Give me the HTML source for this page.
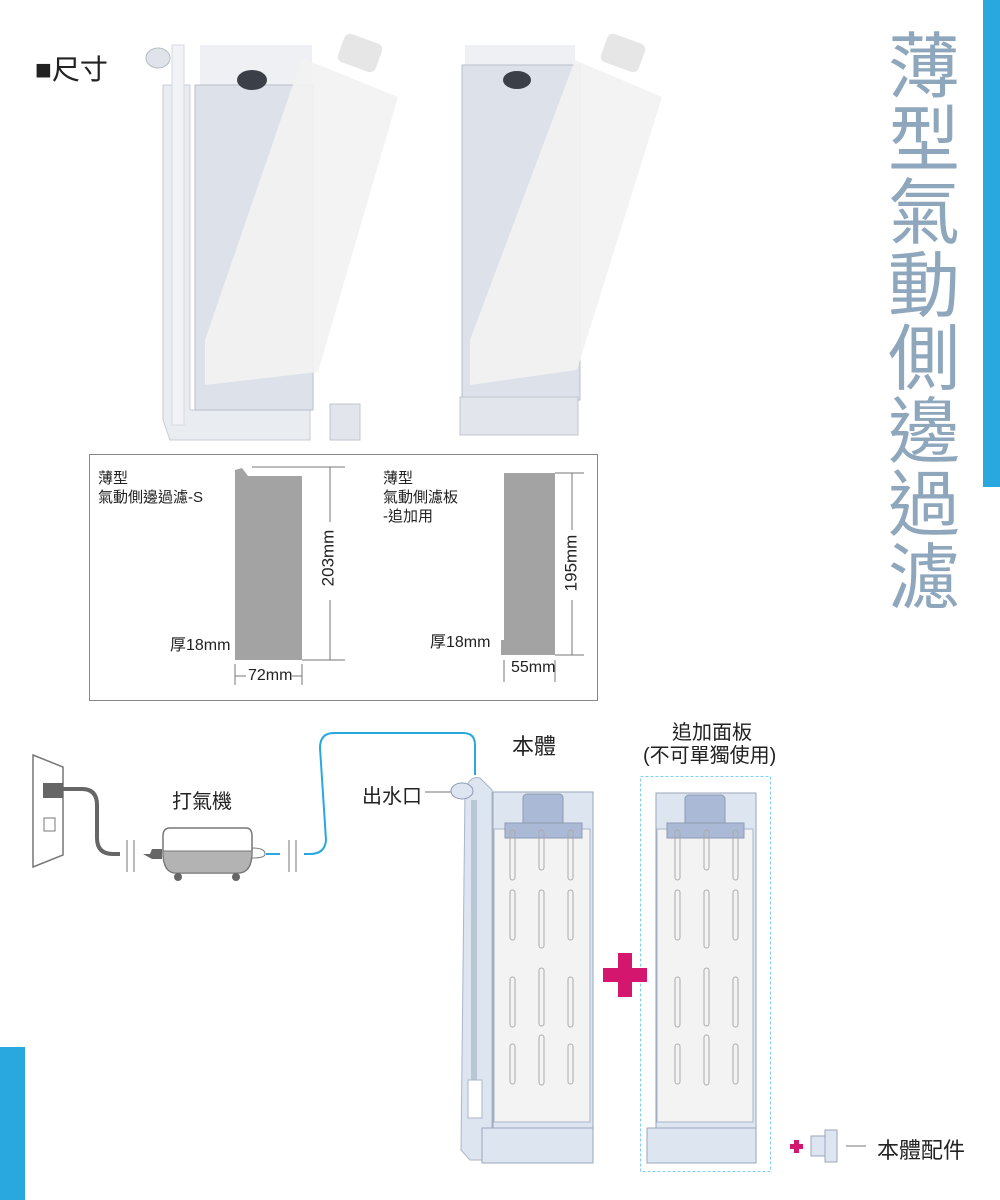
<!DOCTYPE html>
<html><head><meta charset="utf-8"><style>
body{margin:0;background:#fff;}
.w{position:relative;width:1000px;height:1200px;overflow:hidden;font-family:"Liberation Sans","Noto Sans CJK TC",sans-serif;}
.t{position:absolute;color:#222;white-space:nowrap;}
</style></head><body><div class="w">
<svg width="1000" height="1200" style="position:absolute;left:0;top:0">
<rect x="983" y="0" width="17" height="487" fill="#29a8e0"/>
<rect x="0" y="1047" width="25" height="153" fill="#29a8e0"/>
<g>
<path d="M163 85 L190 85 L190 410 L310 410 L310 440 L170 440 L163 420 Z" fill="#e9ecf1" stroke="#c8cdd6"/>
<rect x="172" y="45" width="12" height="380" fill="#f1f3f6" stroke="#d5d9e0"/>
<ellipse cx="158" cy="58" rx="12" ry="10" fill="#e0e4ea" stroke="#b8bec8"/>
<rect x="200" y="45" width="112" height="50" fill="#eef0f3"/>
<rect x="195" y="85" width="118" height="325" fill="#dde1e9" stroke="#b9bfca"/>
<ellipse cx="252" cy="80" rx="15" ry="10" fill="#3b3f48"/>
<polygon points="302,58 398,97 318,372 205,385 205,340" fill="#f2f2f2" opacity=".92"/>
<rect x="340" y="38" width="40" height="30" rx="6" fill="#e6e6e6" transform="rotate(20 360 53)"/>
<rect x="330" y="404" width="30" height="36" fill="#e2e6ec" stroke="#c0c6d0"/>
</g>
<g>
<rect x="465" y="45" width="110" height="30" fill="#eef0f3"/>
<rect x="462" y="65" width="118" height="335" fill="#dde1e9" stroke="#b9bfca"/>
<ellipse cx="517" cy="80" rx="14" ry="9" fill="#3b3f48"/>
<polygon points="575,60 662,97 577,370 470,385 470,340" fill="#f2f2f2" opacity=".92"/>
<rect x="603" y="38" width="40" height="30" rx="6" fill="#e6e6e6" transform="rotate(20 623 53)"/>
<rect x="460" y="397" width="118" height="38" fill="#e2e6ec" stroke="#c0c6d0"/>
</g>
<rect x="89.5" y="454.5" width="508" height="246" fill="none" stroke="#888"/>
<path d="M235 470 L242 468 L248 476 L302 476 L302 660 L235 660 Z" fill="#a3a3a3"/>
<line x1="252" y1="467" x2="345" y2="467" stroke="#777"/>
<line x1="302" y1="660" x2="345" y2="660" stroke="#777"/>
<line x1="330" y1="467" x2="330" y2="522" stroke="#777"/>
<line x1="330" y1="600" x2="330" y2="660" stroke="#777"/>
<line x1="235" y1="664" x2="235" y2="685" stroke="#777"/><line x1="302" y1="664" x2="302" y2="685" stroke="#777"/>
<line x1="235" y1="676" x2="246" y2="676" stroke="#777"/><line x1="292" y1="676" x2="302" y2="676" stroke="#777"/>
<path d="M504 473 L555 473 L555 655 L501 655 L501 640 L504 640 Z" fill="#a3a3a3"/>
<line x1="555" y1="473" x2="584" y2="473" stroke="#777"/>
<line x1="555" y1="655" x2="584" y2="655" stroke="#777"/>
<line x1="572" y1="473" x2="572" y2="530" stroke="#777"/>
<line x1="572" y1="600" x2="572" y2="655" stroke="#777"/>
<line x1="504" y1="660" x2="504" y2="682" stroke="#777"/><line x1="555" y1="660" x2="555" y2="682" stroke="#777"/>
<path d="M33 755 L63 767 L63 855 L33 867 Z" fill="#fff" stroke="#777" stroke-width="1.5"/>
<rect x="43" y="783" width="20" height="15" fill="#666"/>
<rect x="44" y="818" width="11" height="13" fill="none" stroke="#777"/>
<path d="M63 789 L82 789 Q97 789 97 805 L97 838 Q97 854 113 854 L120 854" fill="none" stroke="#666" stroke-width="4"/>
<line x1="127" y1="840" x2="127" y2="872" stroke="#777"/><line x1="134" y1="840" x2="134" y2="872" stroke="#777"/>
<path d="M143 854 L150 854 L152 849 L162 849 L162 859 L152 859 Z" fill="#666"/>
<path d="M170 828 L246 828 Q252 828 252 836 L252 852 Q252 873 238 873 L176 873 Q163 873 163 852 L163 836 Q163 828 170 828 Z" fill="#fff" stroke="#777" stroke-width="1.5"/>
<path d="M163 851 L252 851 Q252 873 238 873 L176 873 Q163 873 163 851 Z" fill="#b3b3b3" stroke="#777"/>
<circle cx="178" cy="877" r="4" fill="#666"/><circle cx="236" cy="877" r="4" fill="#666"/>
<path d="M252 848 Q265 848 265 854 Q265 858 252 858" fill="none" stroke="#777"/>
<line x1="266" y1="854" x2="280" y2="854" stroke="#29a8e0" stroke-width="2"/>
<line x1="289" y1="840" x2="289" y2="872" stroke="#777"/><line x1="296" y1="840" x2="296" y2="872" stroke="#777"/>
<path d="M304 854 L310 854 Q325 854 326 840 L320 748 Q320 733 334 733 L463 733 Q475 733 475 745 L475 775" fill="none" stroke="#29a8e0" stroke-width="2"/>
<line x1="425" y1="792" x2="455" y2="792" stroke="#777"/>
<path d="M465 790 Q470 775 480 778 L492 790 L492 1160 L470 1160 L461 1150 Z" fill="#dde5f1" stroke="#aab6c9"/>
<ellipse cx="462" cy="791" rx="11" ry="8" fill="#dde5f1" stroke="#8e9ab0"/>
<rect x="471" y="800" width="6" height="280" fill="#b9c6d3"/>
<rect x="468" y="1080" width="14" height="38" fill="#fff" stroke="#aab6c9"/>
<rect x="493" y="792" width="100" height="371" fill="#dde5f1" stroke="#9aa6ba"/>
<rect x="494" y="829" width="96" height="293" fill="#f3f3f3" stroke="#aab6c9"/>
<rect x="523" y="794" width="40" height="32" rx="4" fill="#aab9d6" stroke="#8e9ab0"/>
<rect x="505" y="823" width="77" height="15" fill="#aab9d6" stroke="#8e9ab0"/>
<rect x="482" y="1128" width="111" height="35" fill="#dde5f1" stroke="#9aa6ba"/>
<rect x="640.5" y="776.5" width="130" height="395" fill="none" stroke="#7fd0f5" stroke-dasharray="3,2"/>
<rect x="656" y="793" width="100" height="370" fill="#dde5f1" stroke="#9aa6ba"/>
<rect x="657" y="829" width="96" height="293" fill="#f3f3f3" stroke="#aab6c9"/>
<rect x="685" y="795" width="40" height="32" rx="4" fill="#aab9d6" stroke="#8e9ab0"/>
<rect x="667" y="823" width="77" height="15" fill="#aab9d6" stroke="#8e9ab0"/>
<rect x="647" y="1128" width="109" height="35" fill="#dde5f1" stroke="#9aa6ba"/>
<g fill="none" stroke="#aaa" stroke-width="1">
<rect x="510" y="830" width="5" height="50" rx="2.5"/><rect x="539" y="830" width="5" height="40" rx="2.5"/><rect x="568" y="830" width="5" height="50" rx="2.5"/>
<rect x="510" y="890" width="5" height="50" rx="2.5"/><rect x="539" y="890" width="5" height="58" rx="2.5"/><rect x="568" y="890" width="5" height="50" rx="2.5"/>
<rect x="510" y="977" width="5" height="50" rx="2.5"/><rect x="539" y="968" width="5" height="58" rx="2.5"/><rect x="568" y="977" width="5" height="50" rx="2.5"/>
<rect x="510" y="1044" width="5" height="40" rx="2.5"/><rect x="539" y="1035" width="5" height="50" rx="2.5"/><rect x="568" y="1044" width="5" height="40" rx="2.5"/>
<rect x="675" y="830" width="5" height="50" rx="2.5"/><rect x="704" y="830" width="5" height="40" rx="2.5"/><rect x="733" y="830" width="5" height="50" rx="2.5"/>
<rect x="675" y="890" width="5" height="50" rx="2.5"/><rect x="704" y="890" width="5" height="58" rx="2.5"/><rect x="733" y="890" width="5" height="50" rx="2.5"/>
<rect x="675" y="977" width="5" height="50" rx="2.5"/><rect x="704" y="968" width="5" height="58" rx="2.5"/><rect x="733" y="977" width="5" height="50" rx="2.5"/>
<rect x="675" y="1044" width="5" height="40" rx="2.5"/><rect x="704" y="1035" width="5" height="50" rx="2.5"/><rect x="733" y="1044" width="5" height="40" rx="2.5"/>
</g>
<path d="M618 953 H632 V968 H647 V982 H632 V997 H618 V982 H603 V968 H618 Z" fill="#d4166f"/>
<path d="M794 1140 H799 V1144 H803 V1149 H799 V1153 H794 V1149 H790 V1144 H794 Z" fill="#d4166f"/>
<rect x="811" y="1136" width="14" height="20" fill="#dde5f1" stroke="#9aa6ba"/>
<rect x="825" y="1130" width="12" height="32" fill="#dde5f1" stroke="#9aa6ba"/>
<line x1="846" y1="1146" x2="866" y2="1146" stroke="#777"/>
</svg>
<div class="t" style="left:35px;top:48px;font-size:28px">■尺寸</div>
<div class="t" style="left:888px;top:32px;font-size:72px;line-height:73px;color:#8fa7bd;white-space:normal;width:80px">薄<br>型<br>氣<br>動<br>側<br>邊<br>過<br>濾</div>
<div class="t" style="left:98px;top:469px;font-size:15px;line-height:19px">薄型<br>氣動側邊過濾-S</div>
<div class="t" style="left:383px;top:469px;font-size:15px;line-height:19px">薄型<br>氣動側濾板<br>-追加用</div>
<div class="t" style="left:170px;top:631px;font-size:16px">厚18mm</div>
<div class="t" style="left:430px;top:628px;font-size:16px">厚18mm</div>
<div class="t" style="left:248px;top:667px;font-size:16px">72mm</div>
<div class="t" style="left:511px;top:659px;font-size:16px">55mm</div>
<div class="t" style="left:300px;top:548px;font-size:17px;transform:rotate(-90deg)">203mm</div>
<div class="t" style="left:543px;top:553px;font-size:17px;transform:rotate(-90deg)">195mm</div>
<div class="t" style="left:172px;top:785px;font-size:20px">打氣機</div>
<div class="t" style="left:362px;top:780px;font-size:20px">出水口</div>
<div class="t" style="left:512px;top:729px;font-size:22px">本體</div>
<div class="t" style="left:672px;top:716px;font-size:20px">追加面板</div>
<div class="t" style="left:643px;top:739px;font-size:20px">(不可單獨使用)</div>
<div class="t" style="left:877px;top:1133px;font-size:22px">本體配件</div>
</div></body></html>
